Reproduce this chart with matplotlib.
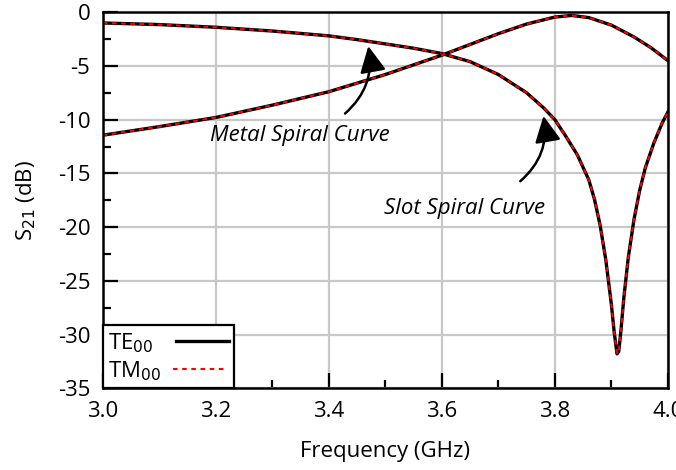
import numpy as np
import matplotlib.pyplot as plt
from matplotlib.ticker import MultipleLocator

plt.rcParams['font.family'] = ['Open Sans', 'DejaVu Sans']
plt.rcParams['font.size'] = 16

# Kurve 1: faellt von -1 dB auf das Minimum bei 3.91 GHz
f1 = [3.0, 3.1, 3.2, 3.3, 3.4, 3.45, 3.5, 3.55, 3.6, 3.65, 3.7, 3.75, 3.78, 3.8,
      3.82, 3.84, 3.86, 3.87, 3.88, 3.89, 3.9, 3.905, 3.91, 3.913, 3.917, 3.922,
      3.93, 3.94, 3.95, 3.96, 3.975, 3.99, 4.0]
s1 = [-1.0, -1.15, -1.4, -1.75, -2.2, -2.55, -2.95, -3.35, -3.85, -4.6, -5.8, -7.5,
      -8.9, -10.0, -11.6, -13.3, -15.6, -17.4, -19.8, -23.0, -27.2, -29.8, -31.8,
      -31.6, -29.6, -26.6, -22.8, -19.3, -16.6, -14.5, -12.2, -10.3, -9.3]

# Kurve 2: steigt von -11 dB auf das Maximum bei 3.83 GHz
f2 = [3.0, 3.1, 3.2, 3.3, 3.4, 3.5, 3.6, 3.65, 3.7, 3.75, 3.8, 3.83, 3.86, 3.9,
      3.94, 3.97, 4.0]
s2 = [-11.45, -10.65, -9.8, -8.65, -7.4, -5.8, -4.0, -3.0, -2.0, -1.1, -0.45, -0.3,
      -0.5, -1.2, -2.3, -3.3, -4.5]

fig, ax = plt.subplots(figsize=(6.76, 4.70), dpi=100)
fig.subplots_adjust(left=0.152, right=0.988, top=0.974, bottom=0.174)

for f, s in [(f1, s1), (f2, s2)]:
    ax.plot(f, s, color='black', lw=2.4, label='TE$_{00}$')
    ax.plot(f, s, color='red', lw=1.5, ls=(0, (2.2, 2.2)), label='TM$_{00}$')

ax.set_xlim(3.0, 4.0)
ax.set_ylim(-35, 0)
ax.xaxis.set_major_locator(MultipleLocator(0.2))
ax.xaxis.set_minor_locator(MultipleLocator(0.1))
ax.yaxis.set_major_locator(MultipleLocator(5))
ax.yaxis.set_minor_locator(MultipleLocator(2.5))
ax.xaxis.set_major_formatter(lambda v, p: f'{v:.1f}')
ax.yaxis.set_major_formatter(lambda v, p: f'{v:.0f}')
ax.tick_params(which='major', direction='in', length=11, width=1.6, pad=9)
ax.tick_params(which='minor', direction='in', length=6, width=1.6)
ax.grid(True, which='major', color='#c8c8c8', lw=1.6)
ax.set_axisbelow(True)
for sp in ax.spines.values():
    sp.set_linewidth(1.8)

ax.set_xlabel('Frequency (GHz)', labelpad=14)
ax.set_ylabel('S$_{21}$ (dB)', labelpad=14)

# Beschriftungen mit Pfeilen
ax.annotate('', xy=(3.469, -2.9), xytext=(3.425, -9.6),
            arrowprops=dict(arrowstyle='-|>,head_length=1.0,head_width=0.5',
                            color='black', lw=1.8,
                            connectionstyle='arc3,rad=0.3'))
ax.text(3.349, -11.45, 'Metal Spiral Curve', style='italic', ha='center', va='center')
ax.annotate('', xy=(3.779, -9.4), xytext=(3.735, -15.9),
            arrowprops=dict(arrowstyle='-|>,head_length=1.0,head_width=0.5',
                            color='black', lw=1.8,
                            connectionstyle='arc3,rad=0.3'))
ax.text(3.641, -18.25, 'Slot Spiral Curve', style='italic', ha='center', va='center')

h, l = ax.get_legend_handles_labels()
leg = ax.legend(h[:2], l[:2], loc='lower left', fancybox=False, framealpha=1,
                edgecolor='black', borderaxespad=0, handlelength=2.4,
                markerfirst=False, borderpad=0.25, labelspacing=0.2,
                handletextpad=0.5)
leg.get_frame().set_linewidth(1.6)

# Texte linksbuendig, Linien an gleicher Stelle
fig.canvas.draw()
r = fig.canvas.get_renderer()
spalte = leg._legend_handle_box.get_children()[0]
spalte.align = 'left'
zeilen = spalte.get_children()
breiten = [z.get_children()[0].get_bbox(r).width for z in zeilen]
for z, b in zip(zeilen, breiten):
    z.sep = z.sep + max(breiten) - b

plt.savefig('out.png')
